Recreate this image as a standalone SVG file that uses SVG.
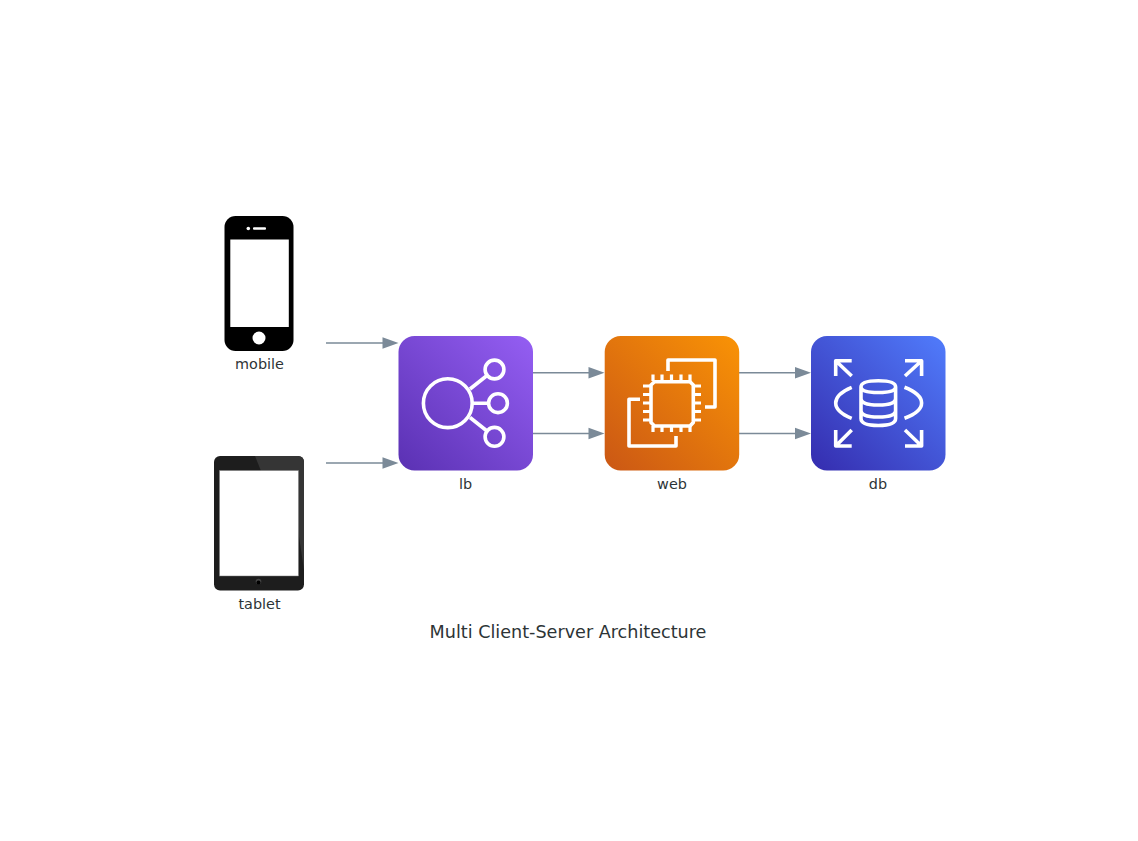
<svg xmlns="http://www.w3.org/2000/svg" width="1138" height="841" viewBox="0 0 1138 841">
<style>
text{font-family:"DejaVu Sans",sans-serif;fill:#2d3436;text-anchor:middle}
.lab{font-size:14.4px}
.i{fill:none;stroke:#fff;stroke-width:3.600;stroke-linejoin:round}
.e{stroke:#7b8a98;stroke-width:1.400;fill:none}
.h{fill:#7b8a98}
</style>
<defs>
<linearGradient id="gp" x1="0" y1="1" x2="1" y2="0"><stop offset="0.050" stop-color="#5d33b6"/><stop offset="0.950" stop-color="#925cf0"/></linearGradient>
<linearGradient id="go" x1="0" y1="1" x2="1" y2="0"><stop offset="0.050" stop-color="#cd5a14"/><stop offset="0.950" stop-color="#f79006"/></linearGradient>
<linearGradient id="gb" x1="0" y1="1" x2="1" y2="0"><stop offset="0.050" stop-color="#3630b2"/><stop offset="0.950" stop-color="#4f78f8"/></linearGradient>
</defs>
<rect width="1138" height="841" fill="#fff"/>
<g id="connectors">
<path class="e" d="M326 343H384M326 463H384M533 372.700H590M533 433.500H590M739 372.700H796M739 433.500H796"/>
<path class="h" d="M382.500 337.300L398.500 343L382.500 348.700ZM382.500 457.300L398.500 463L382.500 468.700ZM588.500 367L604.500 372.700L588.500 378.400ZM588.500 427.800L604.500 433.500L588.500 439.200ZM795 367L811 372.700L795 378.400ZM795 427.800L811 433.500L795 439.200Z"/>
</g>
<g id="mobile">
<rect x="224.500" y="216" width="69" height="135" rx="11" fill="#000"/>
<rect x="230.300" y="239.500" width="58.500" height="87.500" fill="#fff"/>
<circle cx="259" cy="338" r="6.500" fill="#fff"/>
<circle cx="248.300" cy="228.500" r="1.800" fill="#fff"/>
<rect x="253" y="227.300" width="13" height="2.500" rx="1" fill="#fff"/>
<text class="lab" x="259.500" y="369">mobile</text>
</g>
<g id="tablet">
<rect x="214" y="456" width="90" height="134.500" rx="6" fill="#1d1d1d"/>
<path d="M255 456H298Q304 456 304 462V570L298 530V471H261Z" fill="#353535"/>
<rect x="219.500" y="470.500" width="79" height="105.500" fill="#fff" stroke="#777" stroke-width="0.500"/>
<circle cx="258.500" cy="581.500" r="2.800" fill="#444"/>
<circle cx="258.500" cy="582.500" r="2" fill="#000"/>
<text class="lab" x="259.500" y="609">tablet</text>
</g>
<g id="lb">
<rect x="398.500" y="336" width="134.500" height="134.500" rx="16" fill="url(#gp)"/>
<g class="i"><circle cx="447.800" cy="403.200" r="24.400"/><circle cx="494.500" cy="369.500" r="9.400"/><circle cx="498" cy="403.200" r="9.400"/><circle cx="494.500" cy="436.800" r="9.400"/><path d="M470 389L487 375.500M472 403.200H488.500M470 417.500L487 431"/></g>
<text class="lab" x="465.500" y="489">lb</text>
</g>
<g id="web">
<rect x="604.700" y="336" width="134.500" height="134.500" rx="16" fill="url(#go)"/>
<g class="i">
<path d="M654.500 381.700H690L693.300 385V422.500L690 426H654.500L651 422.500V385Z"/>
<path d="M668 371V360H715V407H705M640 399.300H629V446H676V436"/>
<path d="M653 374.500V381M662 374.500V381M671.500 374.500V381M681 374.500V381M690 374.500V381M653 426V432M662 426V432M671.500 426V432M681 426V432M690 426V432M643 386H651M643 394.500H651M643 403H651M643 411.500H651M643 420H651M693 386H701M693 394.500H701M693 403H701M693 411.500H701M693 420H701" stroke-width="3.200"/>
</g>
<text class="lab" x="672" y="489">web</text>
</g>
<g id="db">
<rect x="811" y="336" width="134.500" height="134.500" rx="16" fill="url(#gb)"/>
<g class="i">
<path d="M851.700 376L835.700 360.700M835.700 376V360.700H851.700M905 376L921.600 360.700M905 360.700H921.600V376M851.700 430L835.700 446M835.700 430V446H851.700M905 430L921.600 446M905 446H921.600V430"/>
<path d="M851.700 387.300Q835.700 394 835.700 403Q835.700 412 851.700 418.300M904.500 387.300Q921.600 394 921.600 403Q921.600 412 904.500 418.300"/>
<path d="M861 387V418.500Q861 425.500 878.300 425.500Q895.600 425.500 895.600 418.500V387M861 387Q861 380.800 878.300 380.800Q895.600 380.800 895.600 387Q895.600 392.500 878.300 392.500Q861 392.500 861 387M861 398.500Q861 405 878.300 405Q895.600 405 895.600 398.500M861 410.500Q861 417 878.300 417Q895.600 417 895.600 410.500"/>
</g>
<text class="lab" x="878" y="489">db</text>
</g>
<text id="title" x="568" y="638" font-size="17.600">Multi Client-Server Architecture</text>
</svg>
